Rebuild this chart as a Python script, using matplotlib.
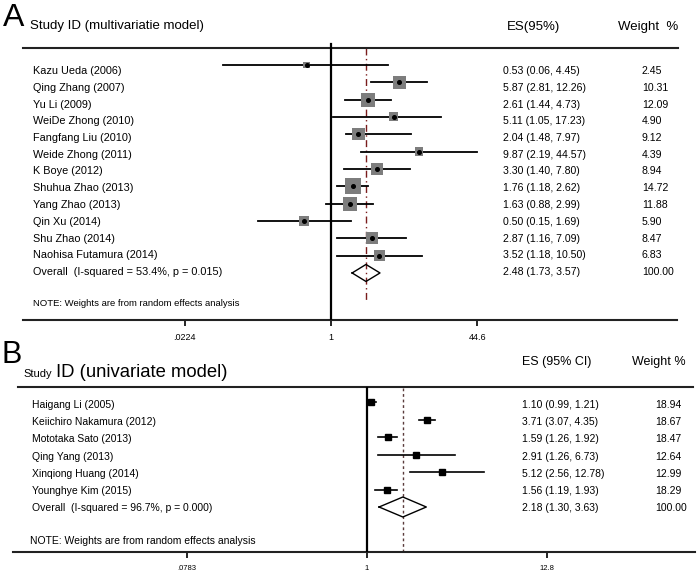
import numpy as np
import matplotlib
matplotlib.use("Agg")
import matplotlib.pyplot as plt
from matplotlib.ticker import NullLocator

plt.rcParams['font.family'] = ['Liberation Sans', 'DejaVu Sans']

# ---------------- Panel A data (multivariate model) ----------------
a_studies = ["Kazu Ueda (2006)", "Qing Zhang (2007)", "Yu Li (2009)", "WeiDe Zhong (2010)",
             "Fangfang Liu (2010)", "Weide Zhong (2011)", "K Boye (2012)", "Shuhua Zhao (2013)",
             "Yang Zhao (2013)", "Qin Xu (2014)", "Shu Zhao (2014)", "Naohisa Futamura (2014)"]
a_es = [0.53, 5.87, 2.61, 5.11, 2.04, 9.87, 3.30, 1.76, 1.63, 0.50, 2.87, 3.52]
a_lo = [0.06, 2.81, 1.44, 1.05, 1.48, 2.19, 1.40, 1.18, 0.88, 0.15, 1.16, 1.18]
a_hi = [4.45, 12.26, 4.73, 17.23, 7.97, 44.57, 7.80, 2.62, 2.99, 1.69, 7.09, 10.50]
a_w = [2.45, 10.31, 12.09, 4.90, 9.12, 4.39, 8.94, 14.72, 11.88, 5.90, 8.47, 6.83]
a_overall = (2.48, 1.73, 3.57)
a_overall_w = "100.00"
a_overall_label = "Overall  (I-squared = 53.4%, p = 0.015)"
a_ticks = [0.0224, 1, 44.6]
a_ticklabels = [".0224", "1", "44.6"]

# ---------------- Panel B data (univariate model) ----------------
b_studies = ["Haigang Li (2005)", "Keiichiro Nakamura (2012)", "Mototaka Sato (2013)",
             "Qing Yang (2013)", "Xinqiong Huang (2014)", "Younghye Kim (2015)"]
b_es = [1.10, 3.71, 1.59, 2.91, 5.12, 1.56]
b_lo = [0.99, 3.07, 1.26, 1.26, 2.56, 1.19]
b_hi = [1.21, 4.35, 1.92, 6.73, 12.78, 1.93]
b_w = [18.94, 18.67, 18.47, 12.64, 12.99, 18.29]
b_overall = (2.18, 1.30, 3.63)
b_overall_w = "100.00"
b_overall_label = "Overall  (I-squared = 96.7%, p = 0.000)"
b_ticks = [0.0783, 1, 12.8]
b_ticklabels = [".0783", "1", "12.8"]

note = "NOTE: Weights are from random effects analysis"

W, H = 700, 571
fig = plt.figure(figsize=(W / 100, H / 100), dpi=100)


def fx(px):
    return px / W


def es_text(e, l, h):
    return f"{e:.2f} ({l:.2f}, {h:.2f})"


def diamond(ax, es, lo, hi, y, hh):
    ax.plot([lo, es, hi, es, lo], [y, y - hh, y, y + hh, y], color='black', lw=1.0, zorder=4)


# ================= Panel A =================
A_axis_y = 320
axA = fig.add_axes([0, 1 - A_axis_y / H, 1, A_axis_y / H])
axA.patch.set_alpha(0)
axA.set_xscale('log')
nullA, kA = 331, 38.5
axA.set_xlim(np.exp((0 - nullA) / kA), np.exp((W - nullA) / kA))
axA.set_ylim(A_axis_y, 0)
for s in axA.spines.values():
    s.set_visible(False)
axA.set_yticks([])
axA.set_xticks(a_ticks)
axA.set_xticklabels(a_ticklabels)
axA.xaxis.set_minor_locator(NullLocator())
axA.tick_params(axis='x', direction='out', length=4, width=1.2, labelsize=6.5, pad=5)
tA = axA.get_yaxis_transform()

axA.text(fx(3), 18, "A", fontsize=23, va='center', ha='left', transform=tA)
axA.text(fx(30), 26, "Study ID (multivariatie model)", fontsize=9.5, va='center', transform=tA)
axA.text(fx(507), 27, "ES(95%)", fontsize=9.5, va='center', transform=tA)
axA.text(fx(618), 27, "Weight  %", fontsize=9.5, va='center', transform=tA)
axA.plot([fx(23), fx(678)], [48, 48], color='#222222', lw=1.5, transform=tA, clip_on=False)
axA.plot([fx(23), fx(677)], [A_axis_y, A_axis_y], color='#222222', lw=1.5, transform=tA, clip_on=False)

nA = len(a_studies)
mark_yA = 65 + np.arange(nA + 1) * 17.33
text_yA = 71 + np.arange(nA + 1) * 16.75

axA.plot([1, 1], [44, A_axis_y], color='black', lw=1.6, zorder=2)
axA.plot([a_overall[0]] * 2, [48, 300], color='#7a1c1c', lw=1.0,
         ls=(0, (5, 2.5, 1, 2.5)), zorder=1)

for i in range(nA):
    y = mark_yA[i]
    axA.plot([a_lo[i], a_hi[i]], [y, y], color='black', lw=1.3, zorder=3)
    axA.scatter([a_es[i]], [y], s=8.6 * a_w[i], marker='s', color='#7d7d7d',
                edgecolors='none', zorder=4)
    axA.plot([a_es[i]], [y], marker='o', ms=2.6, color='black', zorder=5)
    axA.text(fx(33), text_yA[i], a_studies[i], fontsize=7.8, va='center', transform=tA)
    axA.text(fx(503), text_yA[i], es_text(a_es[i], a_lo[i], a_hi[i]), fontsize=7.6,
             va='center', transform=tA)
    axA.text(fx(642), text_yA[i], f"{a_w[i]:.2f}", fontsize=7.6, va='center', transform=tA)

yo = mark_yA[nA]
diamond(axA, a_overall[0], a_overall[1], a_overall[2], yo, 8.5)
axA.text(fx(33), text_yA[nA], a_overall_label, fontsize=7.8, va='center', transform=tA)
axA.text(fx(503), text_yA[nA], es_text(*a_overall), fontsize=7.6, va='center', transform=tA)
axA.text(fx(642), text_yA[nA], a_overall_w, fontsize=7.6, va='center', transform=tA)
axA.text(fx(33), 304, note, fontsize=6.8, va='center', transform=tA)

# ================= Panel B =================
B_top, B_axis_y = 330, 552
axB = fig.add_axes([0, 1 - B_axis_y / H, 1, (B_axis_y - B_top) / H])
axB.patch.set_alpha(0)
axB.set_xscale('log')
nullB, kB, kBt = 367, 46.0, 70.6
axB.set_xlim(np.exp((0 - nullB) / kB), np.exp((W - nullB) / kB))
axB.set_ylim(B_axis_y, B_top)
for s in axB.spines.values():
    s.set_visible(False)
axB.set_yticks([])
axB.set_xticks([])
axB.xaxis.set_minor_locator(NullLocator())

pw = kB / kBt
sec = axB.secondary_xaxis('bottom', functions=(lambda x: np.power(np.abs(x), pw),
                                                lambda t: np.power(np.abs(t), 1 / pw)))
sec.set_xticks(b_ticks)
sec.set_xticklabels(b_ticklabels)
sec.xaxis.set_minor_locator(NullLocator())
sec.spines['bottom'].set_visible(False)
sec.tick_params(axis='x', direction='out', length=4, width=1.2, labelsize=5.5, pad=5)

tB = axB.get_yaxis_transform()
axB.text(fx(2), 355, "B", fontsize=22, va='center', ha='left', transform=tB)
axB.text(fx(23), 377, "Study", fontsize=8, va='baseline', transform=tB)
axB.text(fx(56), 377, "ID (univariate model)", fontsize=13.3, va='baseline', transform=tB)
axB.text(fx(522), 362, "ES (95% CI)", fontsize=9, va='center', transform=tB)
axB.text(fx(632), 362, "Weight %", fontsize=9, va='center', transform=tB)
axB.plot([fx(18), fx(693)], [387, 387], color='#222222', lw=1.5, transform=tB, clip_on=False)
axB.plot([fx(13), fx(695)], [B_axis_y, B_axis_y], color='#222222', lw=1.5, transform=tB,
         clip_on=False)

nB = len(b_studies)
mark_yB = 402 + np.arange(nB + 1) * 17.5
text_yB = 405 + np.arange(nB + 1) * 17.2

axB.plot([1, 1], [388, B_axis_y], color='black', lw=1.6, zorder=2)
axB.plot([b_overall[0]] * 2, [388, B_axis_y], color='#5a3b3b', lw=1.0, ls=(0, (2, 2)), zorder=1)

for i in range(nB):
    y = mark_yB[i]
    axB.plot([b_lo[i], b_hi[i]], [y, y], color='black', lw=1.2, zorder=3)
    axB.plot([b_es[i]], [y], marker='s', ms=3.8, color='black', zorder=4)
    axB.text(fx(32), text_yB[i], b_studies[i], fontsize=7.5, va='center', transform=tB)
    axB.text(fx(522), text_yB[i], es_text(b_es[i], b_lo[i], b_hi[i]), fontsize=7.5,
             va='center', transform=tB)
    axB.text(fx(655), text_yB[i], f"{b_w[i]:.2f}", fontsize=7.5, va='center', transform=tB)

yo = mark_yB[nB]
diamond(axB, b_overall[0], b_overall[1], b_overall[2], yo, 10)
axB.text(fx(32), text_yB[nB], b_overall_label, fontsize=7.5, va='center', transform=tB)
axB.text(fx(522), text_yB[nB], es_text(*b_overall), fontsize=7.5, va='center', transform=tB)
axB.text(fx(655), text_yB[nB], b_overall_w, fontsize=7.5, va='center', transform=tB)
axB.text(fx(30), 541, note, fontsize=7.5, va='center', transform=tB)

fig.savefig("out.png", dpi=100)
